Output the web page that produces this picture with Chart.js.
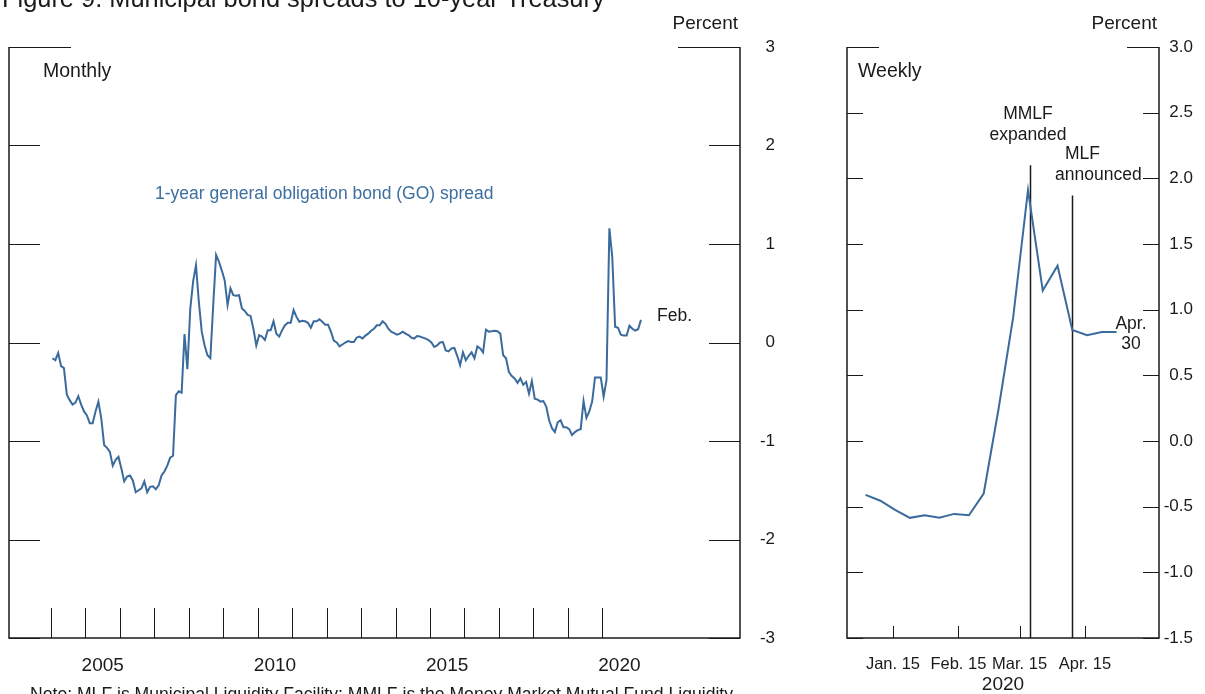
<!DOCTYPE html>
<html><head><meta charset="utf-8">
<script src="https://cdn.jsdelivr.net/npm/chart.js@4.4.1/dist/chart.umd.min.js"></script>
<style>
html,body{margin:0;padding:0;background:#fff;width:1205px;height:694px;overflow:hidden;font-family:"Liberation Sans",Arial,sans-serif;color:#1a1a1a}
.t{position:absolute;white-space:nowrap;line-height:1}
#w1{position:absolute;left:0;top:0;width:800px;height:694px}
#w2{position:absolute;left:800px;top:0;width:405px;height:694px}
</style></head><body>
<div id="w1"><canvas id="c1" width="800" height="694"></canvas></div>
<div id="w2"><canvas id="c2" width="405" height="694"></canvas></div>

<div class="t" style="left:2px;top:-14px;font-size:25.4px">Figure 9. Municipal bond spreads to 10-year Treasury</div>
<div class="t" style="right:467px;top:13px;font-size:19px">Percent</div>
<div class="t" style="right:48px;top:13px;font-size:19px">Percent</div>
<div class="t" style="left:43px;top:61px;font-size:19.5px">Monthly</div>
<div class="t" style="left:858px;top:61px;font-size:19.5px">Weekly</div>
<div class="t" style="left:155px;top:185px;font-size:17.5px;color:#3d6fa0">1-year general obligation bond (GO) spread</div>
<div class="t" style="left:657px;top:307px;font-size:17.5px">Feb.</div>
<div class="t" style="left:978px;top:103px;width:100px;text-align:center;font-size:17.5px;line-height:21px">MMLF<br>expanded</div>
<div class="t" style="left:1065px;top:145px;font-size:17.5px">MLF</div>
<div class="t" style="left:1055px;top:166px;font-size:17.5px">announced</div>
<div class="t" style="left:1106px;top:313px;width:50px;text-align:center;font-size:17.5px;line-height:20px">Apr.<br>30</div>
<div class="t" style="left:30px;top:686px;font-size:17.6px">Note: MLF is Municipal Liquidity Facility; MMLF is the Money Market Mutual Fund Liquidity</div>

<script>
// ---------------- DATA ----------------
const monthlyStartYear = 2004;          // first observation: Jan 2004
const monthlySpread = [
 -0.16,-0.18,-0.105,-0.24,-0.26,-0.53,-0.585,-0.63,-0.61,-0.545,-0.63,-0.70,
 -0.74,-0.82,-0.82,-0.70,-0.60,-0.77,-1.04,-1.07,-1.11,-1.25,-1.19,-1.16,
 -1.28,-1.41,-1.36,-1.35,-1.40,-1.52,-1.50,-1.48,-1.41,-1.52,-1.465,-1.46,
 -1.49,-1.45,-1.35,-1.31,-1.25,-1.17,-1.15,-0.535,-0.495,-0.51,0.085,-0.27,
 0.34,0.62,0.785,0.41,0.11,-0.03,-0.13,-0.16,0.38,0.89,0.82,0.73,
 0.63,0.38,0.55,0.48,0.475,0.48,0.345,0.32,0.28,0.27,0.14,-0.03,
 0.075,0.06,0.025,0.125,0.125,0.215,0.09,0.06,0.125,0.175,0.20,0.20,
 0.33,0.26,0.21,0.22,0.215,0.20,0.15,0.215,0.215,0.235,0.21,0.18,
 0.18,0.11,0.02,0.00,-0.04,-0.02,0.00,0.015,0.005,0.005,0.05,0.06,
 0.04,0.07,0.09,0.12,0.14,0.175,0.175,0.215,0.19,0.14,0.11,0.095,
 0.08,0.09,0.11,0.09,0.075,0.05,0.04,0.065,0.06,0.05,0.04,0.025,
 0.00,-0.045,-0.03,0.00,0.005,-0.08,-0.09,-0.06,-0.055,-0.135,-0.23,-0.10,
 -0.18,-0.135,-0.10,-0.16,-0.04,-0.06,-0.10,0.13,0.11,0.115,0.12,0.115,
 0.09,-0.13,-0.16,-0.30,-0.34,-0.365,-0.41,-0.365,-0.43,-0.40,-0.52,-0.39,
 -0.57,-0.58,-0.60,-0.595,-0.65,-0.79,-0.87,-0.91,-0.81,-0.79,-0.86,-0.86,
 -0.88,-0.94,-0.91,-0.89,-0.88,-0.595,-0.765,-0.70,-0.60,-0.355,-0.355,-0.355,
 -0.55,-0.38,1.16,0.87,0.16,0.15,0.08,0.07,0.07,0.17,0.14,0.12,
 0.135,0.23
];
const yearTicks = [2004,2005,2006,2007,2008,2009,2010,2011,2012,2013,2014,2015,2016,2017,2018,2019,2020];
const yearLabels = [2005,2010,2015,2020];
const leftYTicks = [-3,-2,-1,0,1,2,3];

const weeklyDates = ['2020-01-02','2020-01-09','2020-01-16','2020-01-23','2020-01-30','2020-02-06',
 '2020-02-13','2020-02-20','2020-02-27','2020-03-05','2020-03-12','2020-03-19','2020-03-26',
 '2020-04-02','2020-04-09','2020-04-16','2020-04-23','2020-04-30'];
const weeklySpread = [-0.41,-0.455,-0.525,-0.585,-0.565,-0.585,-0.555,-0.565,-0.40,0.24,0.945,
 1.91,1.145,1.335,0.845,0.805,0.83,0.83];
const weeklyTickDates = ['2020-01-15','2020-02-15','2020-03-15','2020-04-15'];
const weeklyTickLabels = ['Jan. 15','Feb. 15','Mar. 15','Apr. 15'];
const rightYTicks = [-1.5,-1,-0.5,0,0.5,1,1.5,2,2.5,3];
const eventDates = ['2020-03-20','2020-04-09'];   // MMLF expanded, MLF announced
const eventTops = [2.1, 1.87];
// --------------------------------------

const FONT = '"Liberation Sans", Arial, sans-serif';
const INK = '#1a1a1a';
const BLUE = '#3a6b9c';
Chart.defaults.font.family = FONT;
Chart.defaults.color = INK;

function dayNum(s){const [y,m,d]=s.split('-').map(Number);return (Date.UTC(y,m-1,d)-Date.UTC(2020,0,1))/864e5;}

const framePlugin = {
  id:'frame',
  beforeDatasetsDraw(chart,args,o){
    const {ctx,chartArea:{bottom},scales:{x,y}} = chart;
    if(!o.events) return;
    ctx.save(); ctx.strokeStyle=INK; ctx.lineWidth=1.5;
    o.events.forEach(ev=>{
      const px=Math.round(x.getPixelForValue(ev.x))+0.5;
      ctx.beginPath(); ctx.moveTo(px,y.getPixelForValue(ev.top)); ctx.lineTo(px,bottom); ctx.stroke();
    });
    ctx.restore();
  },
  afterDatasetsDraw(chart,args,o){
    const {ctx,chartArea:{left,right,top,bottom},scales:{x,y}} = chart;
    ctx.save(); ctx.strokeStyle=INK; ctx.lineWidth=1;
    o.yTicks.forEach(v=>{
      const py=Math.round(y.getPixelForValue(v))+0.5;
      const len = v===y.max ? o.yLen*2 : o.yLen;
      ctx.beginPath(); ctx.moveTo(left,py); ctx.lineTo(left+len,py);
      ctx.moveTo(right,py); ctx.lineTo(right-len,py); ctx.stroke();
    });
    o.xTicks.forEach(v=>{
      const px=Math.round(x.getPixelForValue(v))+0.5;
      ctx.beginPath(); ctx.moveTo(px,bottom); ctx.lineTo(px,bottom-o.xLen); ctx.stroke();
    });
    ctx.lineWidth=1.5;
    ctx.beginPath(); ctx.moveTo(left,top); ctx.lineTo(left,bottom); ctx.lineTo(right,bottom); ctx.lineTo(right,top); ctx.stroke();
    ctx.restore();
  }
};

new Chart(document.getElementById('c1'),{
  type:'line',
  data:{datasets:[{
    data: monthlySpread.map((v,i)=>({x: monthlyStartYear+(i+0.5)/12, y:v})),
    borderColor:BLUE,borderWidth:2,pointRadius:0,tension:0,fill:false
  }]},
  options:{
    responsive:false,animation:false,devicePixelRatio:1,
    layout:{padding:{left:9,top:47,right:25,bottom:0}},
    plugins:{legend:{display:false},tooltip:{enabled:false},
      frame:{yTicks:leftYTicks,yLen:31,xTicks:yearTicks,xLen:30}},
    scales:{
      x:{type:'linear',min:2002.78,max:2024,
        grid:{display:false,drawTicks:false},border:{display:false},
        afterBuildTicks:s=>{s.ticks=yearLabels.map(yy=>({value:yy+0.5}));},
        afterFit:s=>{s.height=56;},
        ticks:{autoSkip:false,maxRotation:0,padding:16,font:{size:19},color:INK,
          callback:(v,i)=>String(yearLabels[i])}},
      y:{type:'linear',position:'right',min:-3,max:3,
        grid:{display:false,drawTicks:false},border:{display:false},
        afterBuildTicks:s=>{s.ticks=leftYTicks.map(v=>({value:v}));},
        afterFit:s=>{s.width=35;},
        ticks:{crossAlign:'far',padding:19,font:{size:17},color:INK,callback:v=>String(v)}}
    }
  },
  plugins:[framePlugin]
});

new Chart(document.getElementById('c2'),{
  type:'line',
  data:{datasets:[{
    data: weeklyDates.map((d,i)=>({x:dayNum(d),y:weeklySpread[i]})),
    borderColor:BLUE,borderWidth:2,pointRadius:0,tension:0,fill:false
  }]},
  options:{
    responsive:false,animation:false,devicePixelRatio:1,
    layout:{padding:{left:47,top:47,right:12,bottom:0}},
    plugins:{legend:{display:false},tooltip:{enabled:false},
      frame:{yTicks:rightYTicks,yLen:16,xTicks:weeklyTickDates.map(dayNum),xLen:12,
        events:eventDates.map((d,i)=>({x:dayNum(d),top:eventTops[i]}))}},
    scales:{
      x:{type:'linear',min:-7.8,max:140.1,
        grid:{display:false,drawTicks:false},border:{display:false},
        afterBuildTicks:s=>{s.ticks=weeklyTickDates.map(d=>({value:dayNum(d)}));},
        afterFit:s=>{s.height=56;},
        title:{display:true,text:'2020',font:{size:19,lineHeight:1},color:INK,padding:{top:0,bottom:0}},
        ticks:{autoSkip:false,maxRotation:0,padding:17,font:{size:16.5},color:INK,
          callback:(v,i)=>weeklyTickLabels[i]}},
      y:{type:'linear',position:'right',min:-1.5,max:3,
        grid:{display:false,drawTicks:false},border:{display:false},
        afterBuildTicks:s=>{s.ticks=rightYTicks.map(v=>({value:v}));},
        afterFit:s=>{s.width=34;},
        ticks:{crossAlign:'far',padding:5,font:{size:17},color:INK,callback:v=>v.toFixed(1)}}
    }
  },
  plugins:[framePlugin]
});
</script>
</body></html>
